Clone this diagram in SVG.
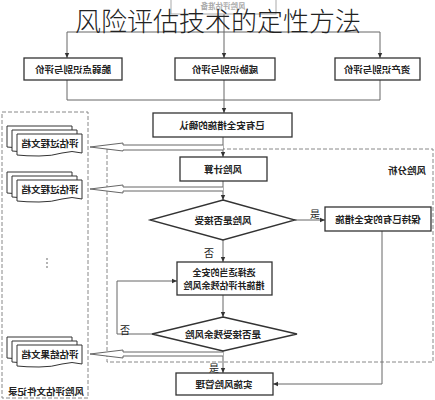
<svg xmlns="http://www.w3.org/2000/svg" width="435" height="400" viewBox="0 0 435 400">
<style>
.bx{fill:#fff;stroke:#333;stroke-width:1.3}
.ln{fill:none;stroke:#666;stroke-width:1}
.dash{fill:none;stroke:#888;stroke-width:1;stroke-dasharray:4 2}
.t{font-family:"Noto Sans CJK SC","Noto Sans",sans-serif;font-size:9.5px;font-weight:bold;fill:#222;text-anchor:middle;dominant-baseline:central}
.lb{font-family:"Noto Sans CJK SC","Noto Sans",sans-serif;font-size:10px;fill:#222;text-anchor:middle;dominant-baseline:central}
.doc{fill:#fff;stroke:#333;stroke-width:1}
.ha{fill:#fff;stroke:#666;stroke-width:1}
.title{font-family:"Noto Sans CJK SC","Noto Sans",sans-serif;font-size:26px;font-weight:300;fill:#222;text-anchor:middle}
</style>
<defs>
<marker id="ar" markerWidth="6" markerHeight="6" refX="5" refY="3" orient="auto" markerUnits="userSpaceOnUse">
<path d="M0,0.8 L5,3 L0,5.2 Z" fill="#333"/>
</marker>
<path id="docshape" d="M0,0 H65 V19 Q55,16 45,19 T22,22 T0,21 Z"/>
</defs>

<rect width="435" height="400" fill="#fff"/>

<!-- regions -->
<g id="region-analysis">
<rect class="dash" x="107" y="149" width="326" height="213"/>
<text class="t" x="-407" y="170" transform="scale(-1,1)">风险分析</text>
</g>
<g id="region-records">
<rect class="dash" x="2" y="112" width="86" height="286"/>
<text class="t" x="-46" y="391" transform="scale(-1,1)">风险评估文件记录</text>
<circle cx="47" cy="259" r="0.8" fill="#555"/>
<circle cx="47" cy="263" r="0.8" fill="#555"/>
<circle cx="47" cy="267" r="0.8" fill="#555"/>
</g>

<!-- connectors -->
<g id="connectors">
<path class="ln" d="M224,14 V32"/>
<path class="ln" d="M67,32 H380"/>
<path class="ln" d="M67,32 V58" marker-end="url(#ar)"/>
<path class="ln" d="M224,32 V58" marker-end="url(#ar)"/>
<path class="ln" d="M380,32 V58" marker-end="url(#ar)"/>
<path class="ln" d="M67,80 V100 M224,80 V100 M380,80 V100 M67,100 H380"/>
<path class="ln" d="M224,100 V113" marker-end="url(#ar)"/>
<path class="ln" d="M223,137 V157" marker-end="url(#ar)"/>
<path class="ln" d="M223,181 V200" marker-end="url(#ar)"/>
<path class="ln" d="M295,220 H325" marker-end="url(#ar)"/>
<path class="ln" d="M382,231 V384 H273" marker-end="url(#ar)"/>
<path class="ln" d="M223,240 V262" marker-end="url(#ar)"/>
<path class="ln" d="M223,295 V317" marker-end="url(#ar)"/>
<path class="ln" d="M152,334 H117 V281 H177" marker-end="url(#ar)"/>
<path class="ln" d="M223,351 V373" marker-end="url(#ar)"/>
<!-- hollow arrows to documents -->
<path class="ha" d="M223,145 H123 V143 L90,147 L123,151 V150 H223"/>
<path class="ha" d="M223,187 H123 V185 L90,189 L123,193 V191 H223"/>
<path class="ha" d="M223,352 H123 V350 L90,354 L123,358 V356 H223"/>
<text class="lb" x="315" y="213">是</text>
<text class="lb" x="209" y="252">否</text>
<text class="lb" x="125" y="329">否</text>
<text class="lb" x="214" y="367">是</text>
</g>

<!-- nodes -->
<g id="n-prep">
<rect x="171" y="-10" width="105" height="24" fill="#fff" stroke="#aaa" stroke-width="1"/>
<text class="t" x="-223" y="5" transform="scale(-1,1)" style="fill:#aaa;font-size:7.5px">风险评估准备</text>
</g>
<g id="n-vuln">
<rect class="bx" x="24" y="58" width="98" height="22"/>
<text class="t" x="-73" y="69" transform="scale(-1,1)">脆弱点识别与评价</text>
</g>
<g id="n-threat">
<rect class="bx" x="175" y="58" width="100" height="22"/>
<text class="t" x="-225" y="69" transform="scale(-1,1)">威胁识别与评价</text>
</g>
<g id="n-asset">
<rect class="bx" x="335" y="58" width="85" height="22"/>
<text class="t" x="-377" y="69" transform="scale(-1,1)">资产识别与评价</text>
</g>
<g id="n-confirm">
<rect class="bx" x="153" y="113" width="139" height="24"/>
<text class="t" x="-222" y="125" transform="scale(-1,1)">已有安全措施的确认</text>
</g>
<g id="n-calc">
<rect class="bx" x="180" y="157" width="87" height="24"/>
<text class="t" x="-223" y="169" transform="scale(-1,1)">风险计算</text>
</g>
<g id="n-accept">
<polygon class="bx" points="223,200 295,220 223,240 150,220"/>
<text class="t" x="-223" y="220" transform="scale(-1,1)">风险是否接受</text>
</g>
<g id="n-keep">
<rect class="bx" x="325" y="207" width="106" height="24"/>
<text class="t" x="-378" y="219" transform="scale(-1,1)">保持已有的安全措施</text>
</g>
<g id="n-select">
<rect class="bx" x="177" y="262" width="95" height="33"/>
<text class="t" x="-224" y="272" transform="scale(-1,1)" style="font-size:9px">选择适当的安全</text>
<text class="t" x="-224" y="285" transform="scale(-1,1)" style="font-size:9px">措施并评估残余风险</text>
</g>
<g id="n-residual">
<polygon class="bx" points="223,317 297,334 223,351 152,334"/>
<text class="t" x="-223" y="334" transform="scale(-1,1)">是否接受残余风险</text>
</g>
<g id="n-implement">
<rect class="bx" x="176" y="373" width="97" height="22"/>
<text class="t" x="-224" y="384" transform="scale(-1,1)">实施风险管理</text>
</g>

<g id="n-doc1">
<use href="#docshape" class="doc" x="7" y="126"/>
<use href="#docshape" class="doc" x="12" y="130"/>
<use href="#docshape" class="doc" x="17" y="134"/>
<text class="t" x="-50" y="143" transform="scale(-1,1)">评估过程文档</text>
</g>
<g id="n-doc2">
<use href="#docshape" class="doc" x="7" y="172"/>
<use href="#docshape" class="doc" x="12" y="176"/>
<use href="#docshape" class="doc" x="17" y="180"/>
<text class="t" x="-50" y="189" transform="scale(-1,1)">评估过程文档</text>
</g>
<g id="n-doc3">
<use href="#docshape" class="doc" x="7" y="337"/>
<use href="#docshape" class="doc" x="12" y="341"/>
<use href="#docshape" class="doc" x="17" y="345"/>
<text class="t" x="-50" y="354" transform="scale(-1,1)">评估结果文档</text>
</g>

<text class="title" x="218" y="31">风险评估技术的定性方法</text>
</svg>
